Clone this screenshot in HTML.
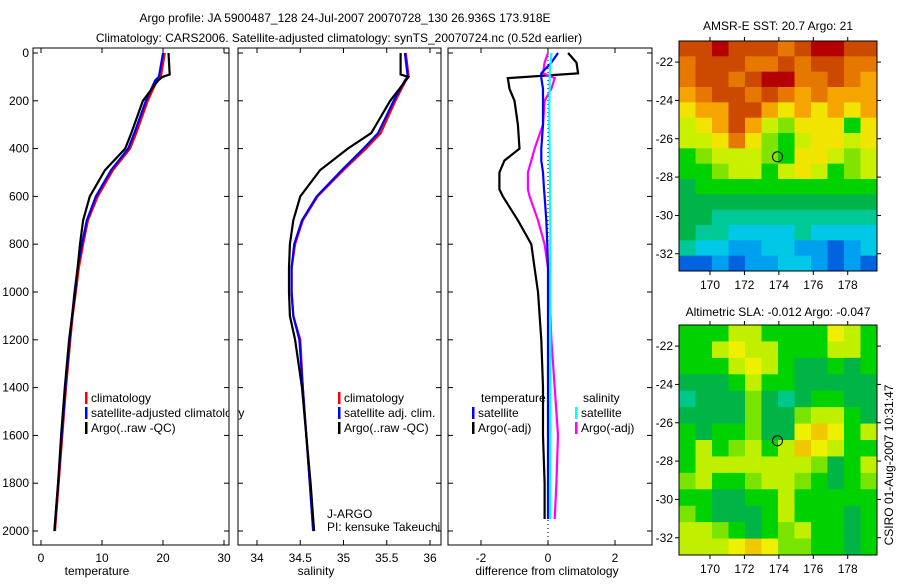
<!DOCTYPE html>
<html><head><meta charset="utf-8"><style>
body{margin:0;background:#fff;width:900px;height:580px;overflow:hidden}
svg{font-family:"Liberation Sans",sans-serif;font-size:12px}
</style></head><body>
<svg id="s" width="900" height="580" xmlns="http://www.w3.org/2000/svg">
<text x="345" y="22" text-anchor="middle">Argo profile: JA 5900487_128 24-Jul-2007 20070728_130 26.936S 173.918E</text>
<text x="339" y="42" text-anchor="middle">Climatology: CARS2006. Satellite-adjusted climatology: synTS_20070724.nc (0.52d earlier)</text>
<text x="97" y="575" text-anchor="middle">temperature</text>
<text x="316" y="575" text-anchor="middle">salinity</text>
<text x="547" y="575" text-anchor="middle">difference from climatology</text>
<text x="778" y="30" text-anchor="middle">AMSR-E SST: 20.7 Argo: 21</text>
<text x="778" y="316" text-anchor="middle">Altimetric SLA: -0.012 Argo: -0.047</text>
<text transform="translate(893,465) rotate(-90)" text-anchor="middle">CSIRO 01-Aug-2007 10:31:47</text>
<text x="327" y="518">J-ARGO</text>
<text x="327" y="531">PI: kensuke Takeuchi</text>
</svg>
<script>
const depthTicks=[0,200,400,600,800,1000,1200,1400,1600,1800,2000];
const tempTicks=[0,10,20,30];
const salTicks=[34,34.5,35,35.5,36];
const salTickLabels=["34","34.5","35","35.5","36"];
const diffTicks=[-2,0,2];
const lonTicks=[170,172,174,176,178];
const latTicks=[-22,-24,-26,-28,-30,-32];

const depths=[0,90,100,115,200,335,400,490,600,700,800,900,1000,1100,1200,1400,1600,1800,2000];
const tempClim=[20.3,19.7,19.6,19.0,17.5,15.6,14.6,11.8,9.3,7.7,6.9,6.2,5.7,5.2,4.8,4.1,3.5,2.9,2.3];
const tempSat=[20.0,19.4,19.3,18.7,17.2,15.3,14.3,11.5,9.0,7.5,6.7,6.0,5.5,5.1,4.7,4.0,3.4,2.8,2.2];
const tempArgo=[20.9,21.1,19.9,19.2,16.7,14.8,13.8,10.5,8.0,6.9,6.4,6.0,5.6,5.1,4.6,3.9,3.3,2.8,2.2];
const salClim=[35.72,35.75,35.75,35.72,35.6,35.43,35.26,35.0,34.7,34.53,34.44,34.4,34.4,34.42,34.5,34.53,34.57,34.61,34.65];
const salSat=[35.71,35.74,35.74,35.71,35.58,35.4,35.23,34.98,34.69,34.52,34.43,34.4,34.4,34.42,34.49,34.53,34.57,34.61,34.65];
const salArgo=[35.66,35.66,35.75,35.72,35.54,35.32,35.05,34.73,34.5,34.42,34.38,34.37,34.37,34.38,34.44,34.52,34.57,34.62,34.66];

const diffDepths=[0,40,85,105,150,200,300,400,450,500,570,600,700,800,900,1000,1200,1400,1600,1800,1950];
const dTempArgo=[0.6,0.85,0.9,-1.2,-1.15,-1.0,-0.9,-0.85,-1.3,-1.45,-1.45,-1.35,-0.9,-0.5,-0.4,-0.3,-0.2,-0.15,-0.15,-0.1,-0.1];
const dSalArgo=[0,-0.1,-0.15,0.2,0.1,-0.1,-0.15,-0.4,-0.5,-0.6,-0.6,-0.55,-0.3,-0.1,0,0.05,0.1,0.2,0.3,0.25,0.2];
const dTempSat=[0.3,0.1,-0.2,-0.2,-0.15,-0.15,-0.15,-0.2,-0.2,-0.15,-0.12,-0.1,-0.05,-0.02,0,0,0,0,0,0,0];
const dSalSat=[0.1,0.08,0.05,0.05,0.05,0.04,0.04,0.05,0.05,0.06,0.06,0.06,0.07,0.07,0.07,0.07,0.07,0.07,0.07,0.06,0.06];

const sstRows=["BBRBBBOBRRBB","OBBBOOBOBBOO","OBBOBRROOBOo","oOBBOBOoOooo","YooBBoYoYoYo","yYoBoyLYYYGY","yyYOYLGyYYyY","GLyyyLGYYyLy","GGLyyGyYyGLy","gGGGGGGGGGGG","gggggggggggg","ggTTTTTTTTTT","gTTCCCCTCCCC","TCCccCCccDcC","DDcDccCCcDcD"];
const slaRows=["GGGyyGGGGYyG","GGyYyyGGGyyG","GGGyYyGggGgG","gggGyGGggggg","TgggLgTgGGgg","ggggLggLyyGg","GgGGLggYOYGy","GyGLyGyOYyGG","GyyyyyyyLgGy","LyGGLyyLGgGL","GGggGGyGGGGG","LGgggGyGGGgG","yyLGgGLyGGgG","yyyYOYLLGGgG"];
const argoLon=[173.92];
const argoLat=[-26.94];

const NS="http://www.w3.org/2000/svg";
const svg=document.getElementById('s');
function mk(t,a,p){const e=document.createElementNS(NS,t);for(const k in a)e.setAttribute(k,a[k]);(p||svg).appendChild(e);return e;}
const yTop=53,yBot=531;
function yD(d){return yTop+(yBot-yTop)*d/2000;}
const pTop=48,pBot=545;
function xT(v){return 41+v*6.1;}
function xS(v){return 257+(v-34)*86.5;}
function xD(v){return 548+v*33.5;}
function line(xs,ys,xf,color,name){
  let d=xs.map((v,i)=>(i?'L':'M')+xf(v).toFixed(1)+','+yD(ys[i]).toFixed(1)).join('');
  const p=mk('path',{d:d,fill:'none',stroke:color,'stroke-width':2.2});
  
  
}
function panel(x0,x1,xf,ticks,labels,name,yl){
  const r=mk('rect',{x:x0,y:pTop,width:x1-x0,height:pBot-pTop,fill:'none',stroke:'#000'});
  
  
  ticks.forEach((t,i)=>{const x=xf(t);
    mk('line',{x1:x,x2:x,y1:pBot,y2:pBot-5,stroke:'#000'});mk('line',{x1:x,x2:x,y1:pTop,y2:pTop+5,stroke:'#000'});
    const tx=mk('text',{x:x,y:pBot+17,'text-anchor':'middle'});tx.textContent=labels[i];
    
    });
  depthTicks.forEach(d=>{const y=yD(d);
    mk('line',{x1:x0,x2:x0+5,y1:y,y2:y,stroke:'#000'});mk('line',{x1:x1,x2:x1-5,y1:y,y2:y,stroke:'#000'});
    if(yl){const tx=mk('text',{x:x0-4,y:y+4,'text-anchor':'end'});tx.textContent=d;
      
      }});
}
panel(33,229,xT,tempTicks,tempTicks.map(String),'temperature-panel',true);
panel(238,441,xS,salTicks,salTickLabels,'salinity-panel',false);
panel(448,652,xD,diffTicks,diffTicks.map(String),'difference-panel',false);
line(tempClim,depths,xT,'#f00','temp-climatology-line');
line(tempSat,depths,xT,'#00f','temp-satellite-line');
line(tempArgo,depths,xT,'#000','temp-argo-line');
line(salClim,depths,xS,'#f00','sal-climatology-line');
line(salSat,depths,xS,'#00f','sal-satellite-line');
line(salArgo,depths,xS,'#000','sal-argo-line');
mk('line',{x1:xD(0),x2:xD(0),y1:pTop,y2:pBot,stroke:'#000','stroke-dasharray':'1,3'});
line(dTempArgo,diffDepths,xD,'#000','diff-temp-argo-line');
line(dSalArgo,diffDepths,xD,'#f0f','diff-sal-argo-line');
line(dTempSat,diffDepths,xD,'#00f','diff-temp-satellite-line');
line(dSalSat,diffDepths,xD,'#0ff','diff-sal-satellite-line');
function leg(x,y,color,label){
  if(color)mk('rect',{x:x,y:y-10,width:2.5,height:12,fill:color});
  const t=mk('text',{x:x+(color?6:0),y:y});t.textContent=label;
  
  
}
leg(85,402,'#f00','climatology');leg(85,417,'#00f','satellite-adjusted climatology');leg(85,432,'#000','Argo(..raw -QC)');
leg(338,402,'#f00','climatology');leg(338,417,'#00f','satellite adj. clim.');leg(338,432,'#000','Argo(..raw -QC)');
leg(481,402,null,'temperature');leg(472,417,'#00f','satellite');leg(472,432,'#000','Argo(-adj)');
leg(583,402,null,'salinity');leg(575,417,'#0ff','satellite');leg(575,432,'#f0f','Argo(-adj)');
mk('rect',{x:229.5,y:400,width:8,height:20,fill:'#fff'});
mk('line',{x1:229,x2:229,y1:400,y2:420,stroke:'#000'});
const cols={R:'#b40000',B:'#cc4a00',O:'#e67800',o:'#f5a400',Y:'#f0e400',y:'#c8f000',L:'#80e400',G:'#00d200',g:'#00b44a',T:'#00c896',C:'#00c8e6',c:'#00a0f0',D:'#0064e0'};
const slaCols={G:'#00d200',g:'#00b446',L:'#78e400',y:'#c0f000',Y:'#eef000',O:'#f0c800',T:'#00c88c'};
function map(rows,pal,top,name){
  const x0=679,x1=877,y1=top+230,lon0=168.2,lon1=179.7,latTop=-20.9,latBot=-32.9;
  const lx=v=>x0+(v-lon0)*(x1-x0)/(lon1-lon0), ly=v=>top+(v-latTop)*230/(latBot-latTop);
  const g=mk('g',{});
  
  
  const nr=rows.length,nc=rows[0].length,cw=(x1-x0)/nc,ch=230/nr;
  rows.forEach((r,i)=>{for(let j=0;j<nc;j++)mk('rect',{x:x0+j*cw,y:top+i*ch,width:cw+0.5,height:ch+0.5,fill:pal[r[j]]},g);});
  mk('rect',{x:x0,y:top,width:x1-x0,height:230,fill:'none',stroke:'#000'});
  lonTicks.forEach(v=>{const x=lx(v);mk('line',{x1:x,x2:x,y1:y1,y2:y1+4,stroke:'#000'});mk('line',{x1:x,x2:x,y1:top,y2:top-4,stroke:'#000'});
    const t=mk('text',{x:x,y:y1+18,'text-anchor':'middle'});t.textContent=v;
    
    });
  latTicks.forEach(v=>{const y=ly(v);mk('line',{x1:x0,x2:x0-4,y1:y,y2:y,stroke:'#000'});mk('line',{x1:x1,x2:x1+4,y1:y,y2:y,stroke:'#000'});
    const t=mk('text',{x:x0-6,y:y+4,'text-anchor':'end'});t.textContent=v;
    
    });
  const c=mk('circle',{cx:lx(argoLon[0]),cy:ly(argoLat[0]),r:5,fill:'none',stroke:'#000'});
  
  
}
map(sstRows,cols,41,'sst-map');
map(slaRows,slaCols,325,'sla-map');
</script>
</body></html>
